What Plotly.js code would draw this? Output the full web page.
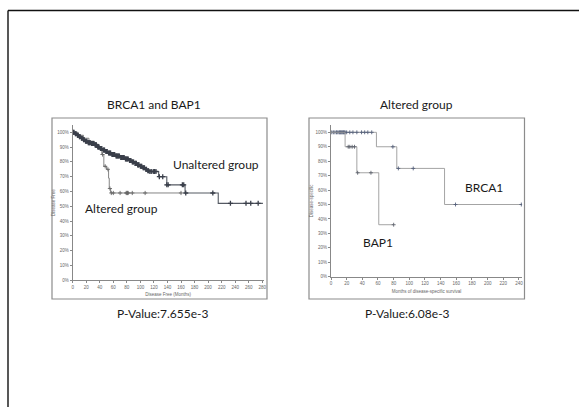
<!DOCTYPE html>
<html><head><meta charset="utf-8">
<script src="https://cdn.plot.ly/plotly-3.0.1.min.js"></script>
<style>html,body{margin:0;padding:0;background:#fff;}#c{width:579px;height:407px;}</style>
</head><body><div id="c"></div>
<script>
// ---- Left chart: BRCA1 and BAP1 (Disease Free) ----
const unaltTimes = [0,3,6,9,12,15,18,22,27,32,36,40,44,48,52,57,63,70,77,83,87,91,95,99,103,107,110,113,127,139,166,215,281];
const unaltSurv  = [100,99,98,97,96,95,94,93,92.5,91.5,90,89,88,87,86,85,84,83,82,81,80,79,78,77,76,75,74,73.5,70,64.5,59,52,52];
const unaltCensor = [1,2,4,5,7,8,10,11,13,14,16,17,19,20,21,23,24,25,26,28,29,30,31,33,34,35,37,38,39,41,42,43,45,46,47,49,50,51,53,54,55,56,58,59,60,61,62,64,65,66,67,68,69,71,72,73,74,75,76,78,79,80,81,82,84,85,86,88,89,90,92,93,94,96,97,98,100,101,102,104,105,106,108,109,111,112,114,116,119,121,123,128,133,139,141,162,164,167,207,233,256,263,274];
const altTimes = [0,8,16,24,32,38,43,46,50,53,54,56,161];
const altSurv  = [100,98,96,94,92,89,85,77,75,69,62,59,59];
const altCensor = [44,48,52,55,57,60,70,79,80,81,82,88,107,160];

// ---- Right chart: Altered group (Disease-specific) ----
const brcaTimes = [0,58,84,145,243];
const brcaSurv  = [100,90,75,50,50];
const brcaCensor = [1,3,5,7,8,10,11,12,13,14,15,16,17,18,20,24,28,33,39,43,47,52,79,86,105,159,243];
const bapTimes = [0,18,33,61,80];
const bapSurv  = [100,90,72,36,36];
const bapCensor = [22,24,27,30,34,51,80];

const pctTicks = [0,10,20,30,40,50,60,70,80,90,100];
const pctLabels = ['0%','10%','20%','30%','40%','50%','60%','70%','80%','90%','100%'];
const leftXTicks = [0,20,40,60,80,100,120,140,160,180,200,220,240,260,280];
const rightXTicks = [0,20,40,60,80,100,120,140,160,180,200,220,240];

const titles = {left:'BRCA1 and BAP1', right:'Altered group'};
const pvalues = {left:'P-Value:7.655e-3', right:'P-Value:6.08e-3'};

function stepAt(T,S,t){let v=S[0];for(let i=0;i<T.length;i++){if(T[i]<=t)v=S[i];}return v;}
const W=579,H=407;
const px=x=>x/W, py=y=>1-y/H;

const darkC='#3a3f4a';
function lineTrace(T,S,color,width,xa,ya){return {x:T,y:S,mode:'lines',line:{shape:'hv',color:color,width:width},xaxis:xa,yaxis:ya,hoverinfo:'skip',showlegend:false};}
function censTrace(T,S,C,color,size,lw,xa,ya){return {x:C,y:C.map(t=>stepAt(T,S,t)),mode:'markers',marker:{symbol:'cross-thin',size:size,line:{color:color,width:lw}},xaxis:xa,yaxis:ya,hoverinfo:'skip',showlegend:false};}

const data=[
  lineTrace(altTimes,altSurv,'#777',0.9,'x','y'),
  censTrace(altTimes,altSurv,altCensor,'#666',3,0.9,'x','y'),
  lineTrace(unaltTimes,unaltSurv,'#555a63',1.1,'x','y'),
  censTrace(unaltTimes,unaltSurv,unaltCensor,darkC,3.6,1.3,'x','y'),
  lineTrace(brcaTimes,brcaSurv,'#9a9a9a',0.9,'x2','y2'),
  censTrace(brcaTimes,brcaSurv,brcaCensor,'#55607a',2.8,0.9,'x2','y2'),
  lineTrace(bapTimes,bapSurv,'#9a9a9a',0.9,'x2','y2'),
  censTrace(bapTimes,bapSurv,bapCensor,'#60646e',2.8,0.9,'x2','y2')
];

const tickFont={family:'Liberation Sans, Arial, sans-serif',size:4.5,color:'#666'};
const axTitleFont={family:'Liberation Sans, Arial, sans-serif',size:4.5,color:'#666'};
function xAx(dom,range,ticks,title){return {domain:dom,range:range,tickvals:ticks,ticktext:ticks.map(String),showline:true,linecolor:'#888',linewidth:1,ticks:'outside',ticklen:2,tickcolor:'#888',tickfont:tickFont,showgrid:false,zeroline:false,fixedrange:true,automargin:false,title:{text:title,font:axTitleFont,standoff:4}};}
function yAx(dom,anchor,title){return {domain:dom,anchor:anchor,range:[0,105],tickvals:pctTicks,ticktext:pctLabels,showline:true,linecolor:'#888',linewidth:1,ticks:'outside',ticklen:2,tickcolor:'#888',tickfont:tickFont,showgrid:false,zeroline:false,fixedrange:true,automargin:false,title:{text:title,font:axTitleFont,standoff:1}};}

const txtFont=(s)=>({family:'Lato, Open Sans, sans-serif',size:s,color:'#1a1a1a'});
function ann(text,x,y,size){return {text:text,xref:'paper',yref:'paper',x:px(x),y:py(y),xanchor:'center',yanchor:'middle',showarrow:false,font:txtFont(size)};}

const layout={
  width:W,height:H,margin:{l:0,r:0,t:0,b:0},paper_bgcolor:'#fff',plot_bgcolor:'rgba(0,0,0,0)',showlegend:false,
  xaxis:Object.assign(xAx([px(72.7),px(263.6)],[0,282],leftXTicks,'Disease Free (Months)'),{anchor:'y'}),
  yaxis:yAx([py(280.3),py(124.9)],'x','Disease Free'),
  xaxis2:Object.assign(xAx([px(331),px(522.1)],[0,244],rightXTicks,'Months of disease-specific survival'),{anchor:'y2'}),
  yaxis2:yAx([py(276.7),py(125.1)],'x2','Disease-specific'),
  shapes:[
    {type:'rect',xref:'paper',yref:'paper',x0:px(52),x1:px(267),y0:py(299),y1:py(118),line:{color:'#8c8c8c',width:1.2},layer:'below'},
    {type:'rect',xref:'paper',yref:'paper',x0:px(309),x1:px(524.5),y0:py(299),y1:py(118),line:{color:'#8c8c8c',width:1.2},layer:'below'},
    {type:'line',xref:'paper',yref:'paper',x0:px(8),x1:px(590),y0:py(10.5),y1:py(10.5),line:{color:'#111',width:1.4}},
    {type:'line',xref:'paper',yref:'paper',x0:px(8),x1:px(8),y0:py(10.5),y1:py(420),line:{color:'#111',width:1.4}}
  ],
  annotations:[
    ann(titles.left,154,104,12),
    ann(titles.right,416,104,12),
    ann(pvalues.left,163,313,12),
    ann(pvalues.right,407.5,313,12),
    ann('Unaltered group',216,164,12),
    ann('Altered group',121.5,208.5,12),
    ann('BRCA1',484,187,12),
    ann('BAP1',378,242.5,12)
  ]
};
Plotly.newPlot('c',data,layout,{staticPlot:true,displayModeBar:false});
</script></body></html>
